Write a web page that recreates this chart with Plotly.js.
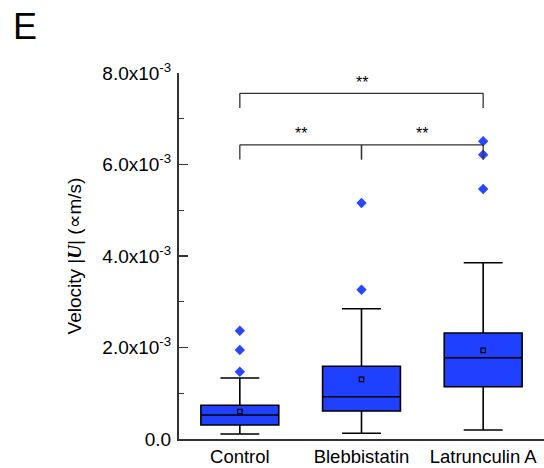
<!DOCTYPE html>
<html>
<head>
<meta charset="utf-8">
<script src="https://cdn.plot.ly/plotly-3.0.1.min.js"></script>
<style>html,body{margin:0;padding:0;background:#fff;}#chart{width:544px;height:468px;}</style>
</head>
<body>
<div id="chart"></div>
<script>
// ---- data ----
const categories = ["Control", "Blebbistatin", "Latrunculin A"];
const q1Values     = [0.306e-3, 0.612e-3, 1.143e-3];
const medianValues = [0.525e-3, 0.925e-3, 1.777e-3];
const q3Values     = [0.737e-3, 1.589e-3, 2.317e-3];
const lowerWhisker = [0.109e-3, 0.125e-3, 0.197e-3];
const upperWhisker = [1.333e-3, 2.848e-3, 3.853e-3];
const meanValues   = [0.597e-3, 1.305e-3, 1.939e-3];
const outlierCats  = ["Control", "Control", "Control", "Blebbistatin", "Blebbistatin", "Latrunculin A", "Latrunculin A", "Latrunculin A"];
const outlierVals  = [1.47e-3, 1.945e-3, 2.367e-3, 3.263e-3, 5.158e-3, 5.464e-3, 6.214e-3, 6.507e-3];
const tickVals   = [0, 2e-3, 4e-3, 6e-3, 8e-3];
const tickLabels = ["0.0", "2.0x10<sup>-3</sup>", "4.0x10<sup>-3</sup>", "6.0x10<sup>-3</sup>", "8.0x10<sup>-3</sup>"];
// significance comparisons: [fromIndex, toIndex, barLevel, label]
const sigFrom  = [0, 0, 1];
const sigTo    = [2, 1, 2];
const sigLevel = [7.556e-3, 6.43e-3, 6.43e-3];
const sigText  = ["**", "**", "**"];

const blue = "#2040ff";
const font = "Liberation Sans, Arial, sans-serif";

const traces = [
  {
    type: "box",
    x: categories,
    q1: q1Values, median: medianValues, q3: q3Values,
    lowerfence: lowerWhisker, upperfence: upperWhisker,
    width: 0.64, whiskerwidth: 0.5,
    fillcolor: blue,
    line: {color: "#000", width: 1.6},
    boxpoints: false,
    hoverinfo: "skip",
    showlegend: false
  },
  {
    type: "scatter", mode: "markers",
    x: categories, y: meanValues,
    marker: {symbol: "square-open", size: 4.5, color: "#000", line: {width: 1.2, color: "#000"}},
    showlegend: false
  },
  {
    type: "scatter", mode: "markers",
    x: outlierCats, y: outlierVals,
    marker: {symbol: "diamond", size: 8, color: "#2a46ff"},
    showlegend: false
  }
];

const shapes = [];
const annotations = [];
const tickH = 0.32e-3;
for (let i = 0; i < sigFrom.length; i++) {
  const a = sigFrom[i], b = sigTo[i], lv = sigLevel[i];
  const ln = {color: "#333", width: 1.3};
  shapes.push({type: "line", xref: "x", yref: "y", x0: a, x1: b, y0: lv, y1: lv, line: ln});
  shapes.push({type: "line", xref: "x", yref: "y", x0: a, x1: a, y0: lv, y1: lv - tickH, line: ln});
  shapes.push({type: "line", xref: "x", yref: "y", x0: b, x1: b, y0: lv, y1: lv - tickH, line: ln});
  annotations.push({xref: "x", yref: "y", x: (a + b) / 2, y: lv, yshift: 11, text: sigText[i],
    showarrow: false, font: {family: font, size: 16, color: "#000"}});
}
annotations.push({xref: "paper", yref: "paper", x: -0.46, y: 1.126, xanchor: "left", yanchor: "middle",
  text: "E", showarrow: false, font: {family: font, size: 36, color: "#000"}});

const layout = {
  width: 544, height: 468,
  margin: {l: 179, r: 0, t: 73, b: 29},
  paper_bgcolor: "#fff", plot_bgcolor: "#fff",
  font: {family: font, size: 18, color: "#000"},
  showlegend: false,
  xaxis: {
    type: "category", categoryorder: "array", categoryarray: categories,
    range: [-0.5, 2.5],
    showline: true, linecolor: "#333", linewidth: 2,
    ticks: "", showgrid: false, zeroline: false,
    tickfont: {family: font, size: 18.5, color: "#000"}
  },
  yaxis: {
    range: [0, 8e-3],
    tickvals: tickVals, ticktext: tickLabels,
    showline: true, linecolor: "#333", linewidth: 2,
    ticks: "inside", ticklen: 9, tickwidth: 1.3, tickcolor: "#333",
    ticklabelstandoff: 2,
    minor: {dtick: 1e-3, ticks: "inside", ticklen: 5, tickwidth: 1.3, tickcolor: "#333", showgrid: false},
    showgrid: false, zeroline: false,
    tickfont: {family: font, size: 19, color: "#000"},
    title: {text: "Velocity |<span style=\"font-family:Liberation Serif\"><b><i>U</i></b></span>| (∝m/s)", font: {family: font, size: 19, color: "#000"}, standoff: 16}
  },
  shapes: shapes,
  annotations: annotations
};

Plotly.newPlot("chart", traces, layout, {displayModeBar: false, staticPlot: true});
</script>
</body>
</html>
